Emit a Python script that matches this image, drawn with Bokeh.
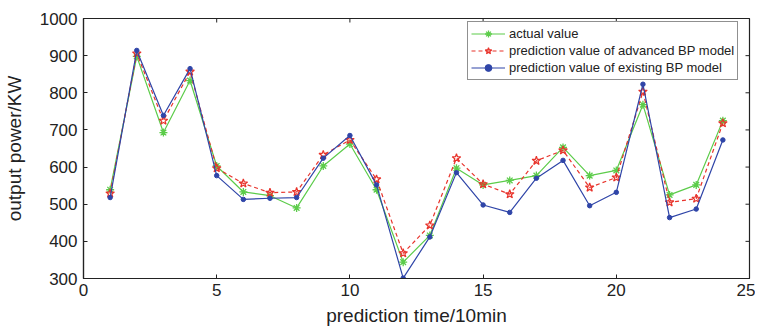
import math
from bokeh.plotting import figure
from bokeh.models import Range1d, FixedTicker, Legend, LegendItem, ColumnDataSource
from bokeh.embed import file_html
from bokeh.resources import INLINE

t = list(range(1, 25))
actual = [539, 898, 693, 833, 603, 533, 523, 490, 603, 662, 539, 344, 416, 597, 552, 564, 577, 653, 577, 591, 768, 525, 552, 725]
advanced = [529, 906, 725, 857, 597, 556, 531, 533, 633, 673, 567, 368, 443, 624, 554, 527, 617, 645, 545, 572, 803, 505, 515, 718]
existing = [518, 914, 739, 865, 577, 513, 516, 518, 624, 685, 552, 301, 412, 585, 498, 478, 570, 618, 496, 532, 823, 464, 487, 673]
x_ticks = [0, 5, 10, 15, 20, 25]
y_ticks = [300, 400, 500, 600, 700, 800, 900, 1000]
x_lim = (0, 25)
y_lim = (300, 1000)
labels = ["actual value", "prediction value of advanced BP model", "prediction value of existing BP model"]

FONT = "Liberation Sans"
INK = "#222222"
GREEN = "#5ccc4a"
RED = "#e8332b"
BLUE = "#2f45a8"

src = ColumnDataSource(dict(t=t, a=actual, b=advanced, c=existing))

p = figure(width=755, height=328, output_backend="svg", toolbar_location=None,
           x_range=Range1d(*x_lim), y_range=Range1d(*y_lim),
           min_border_left=82, min_border_right=6, min_border_top=18, min_border_bottom=47,
           x_axis_label="prediction time/10min", y_axis_label="output power/KW")
p.grid.visible = False
p.outline_line_color = INK
p.outline_line_width = 1.2
p.background_fill_color = "white"
p.border_fill_color = "white"

for ax, ticks in ((p.xaxis[0], x_ticks), (p.yaxis[0], y_ticks)):
    ax.ticker = FixedTicker(ticks=ticks)
    ax.major_tick_in = 4
    ax.major_tick_out = 0
    ax.minor_tick_in = 0
    ax.minor_tick_out = 0
    ax.axis_line_color = INK
    ax.axis_line_width = 1.2
    ax.major_tick_line_color = INK
    ax.major_label_text_font = FONT
    ax.major_label_text_font_size = "17px"
    ax.major_label_text_color = INK
    ax.axis_label_text_font = FONT
    ax.axis_label_text_font_size = "19px"
    ax.axis_label_text_font_style = "normal"
    ax.axis_label_text_color = INK
p.yaxis[0].major_label_standoff = 6
p.xaxis[0].major_label_standoff = 5
p.xaxis[0].axis_label_standoff = 6
p.yaxis[0].axis_label_standoff = 12

# inward ticks on the top and right edges of the box
p.ray(x=x_ticks, y=[y_lim[1]] * len(x_ticks), length=4, length_units="screen",
      angle=-math.pi / 2, line_color=INK, line_width=1)
p.ray(x=[x_lim[1]] * len(y_ticks), y=y_ticks, length=4, length_units="screen",
      angle=math.pi, line_color=INK, line_width=1)

l1 = p.line("t", "a", source=src, line_color=GREEN, line_width=1.2)
m1 = p.scatter("t", "a", source=src, marker="asterisk", size=8, line_color=GREEN, line_width=1.3)
l2 = p.line("t", "b", source=src, line_color=RED, line_width=1.2, line_dash="4 3")
m2 = p.scatter("t", "b", source=src, marker="star", size=9, line_color=RED, fill_color=None, line_width=1.2)
l3 = p.line("t", "c", source=src, line_color=BLUE, line_width=1.2)
m3 = p.scatter("t", "c", source=src, marker="circle", size=4.5, line_color=BLUE, fill_color=BLUE)

legend = Legend(items=[LegendItem(label=labels[0], renderers=[l1, m1]),
                       LegendItem(label=labels[1], renderers=[l2, m2]),
                       LegendItem(label=labels[2], renderers=[l3, m3])],
                location=(384, 198), margin=0, padding=3, spacing=0,
                label_text_font=FONT, label_text_font_size="13px", label_text_color=INK,
                label_height=17, glyph_height=17, glyph_width=34, label_standoff=4,
                border_line_color=INK, border_line_width=1.2,
                background_fill_alpha=1.0)
p.add_layout(legend, "center")

open("out.html", "w").write(file_html(p, INLINE))
